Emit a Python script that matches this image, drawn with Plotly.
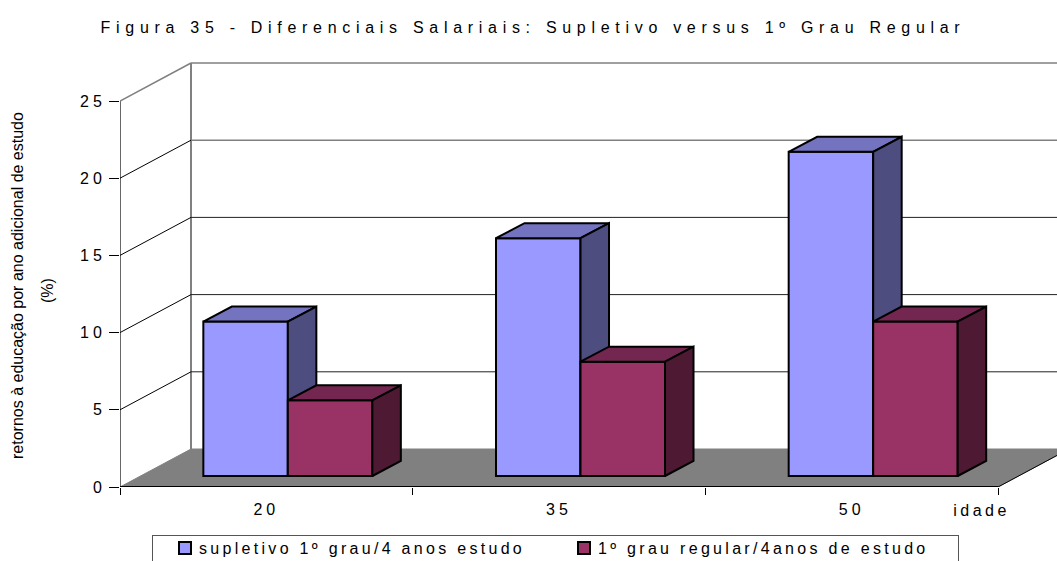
import plotly.graph_objects as go

# Data
ages = ["20", "35", "50"]
supletivo = [10, 15.4, 21]
regular = [4.9, 7.4, 10]
name_sup = "supletivo 1º grau/4 anos estudo"
name_reg = "1º grau regular/4anos de estudo"
y_ticks = [0, 5, 10, 15, 20, 25]
title = "Figura 35 - Diferenciais Salariais: Supletivo versus 1º Grau Regular"
ytitle1 = "retornos à educação por ano adicional de estudo"
ytitle2 = "(%)"

# Geometry of the pseudo-3D projection (axis units)
PX_X, PX_Y = 292.67, 15.44
L, B, W, H = 120, 74, 937, 437
xmax, ymax = W / PX_X, H / PX_Y
WALL_DX, WALL_DY = 71 / PX_X, 38 / PX_Y
BAR_DX, BAR_DY = 21.5 / PX_X, 11 / PX_Y
SIDE_DX, SIDE_DY = 28.5 / PX_X, 15 / PX_Y
BAR_W = 84.5 / PX_X
n = len(ages)
FONT = "Liberation Sans, Arial, sans-serif"

fig = go.Figure()


def poly(xs, ys, fill, line="#000000", width=2, axes=("x", "y")):
    fig.add_trace(go.Scatter(x=xs, y=ys, mode="lines", fill="toself", fillcolor=fill,
                             line=dict(color=line, width=width), showlegend=False,
                             hoverinfo="skip", xaxis=axes[0], yaxis=axes[1]))


def seg(xs, ys, color, width):
    fig.add_trace(go.Scatter(x=xs, y=ys, mode="lines", line=dict(color=color, width=width),
                             showlegend=False, hoverinfo="skip"))


# floor
poly([0, n, n + WALL_DX, WALL_DX, 0], [0, 0, WALL_DY, WALL_DY, 0], "#808080", "#808080", 1)
seg([n, n + WALL_DX], [0, WALL_DY], "#000000", 1)
# walls and gridlines
seg([WALL_DX, WALL_DX], [WALL_DY, 25 + WALL_DY], "#808080", 2)
seg([0, 0], [0, 25], "#000000", 1.2)
for v in y_ticks[1:]:
    grey = v >= 20
    seg([0, WALL_DX], [v, v + WALL_DY], "#808080" if v == 25 else "#000000", 1.5 if v == 25 else 1)
    seg([WALL_DX, xmax], [v + WALL_DY] * 2, "#808080" if grey else "#222222", 1.5 if grey else 1)
seg([0, n], [0, 0], "#000000", 2)


def series(vals, centers_off, front, top, side, name, axes):
    xs = [i + 0.5 + BAR_DX for i in range(n)]
    fig.add_trace(go.Bar(x=xs, y=vals, base=[BAR_DY] * n, width=BAR_W, offset=centers_off,
                         marker=dict(color=front, line=dict(color="#000000", width=2)),
                         name=name, xaxis=axes[0], yaxis=axes[1]))
    for xc, v in zip(xs, vals):
        x0, x1 = xc + centers_off, xc + centers_off + BAR_W
        y0, y1 = BAR_DY, BAR_DY + v
        poly([x0, x1, x1 + SIDE_DX, x0 + SIDE_DX, x0],
             [y1, y1, y1 + SIDE_DY, y1 + SIDE_DY, y1], top, axes=axes)
        poly([x1, x1 + SIDE_DX, x1 + SIDE_DX, x1, x1],
             [y0, y0 + SIDE_DY, y1 + SIDE_DY, y1, y0], side, axes=axes)


series(supletivo, -BAR_W, "#9999FF", "#7373BF", "#4D4D80", name_sup, ("x2", "y2"))
series(regular, 0, "#993366", "#732650", "#4D1933", name_reg, ("x3", "y3"))

hidden_x = dict(range=[0, xmax], visible=False, overlaying="x", fixedrange=True)
hidden_y = dict(range=[0, ymax], visible=False, overlaying="y", fixedrange=True)

fig.update_layout(
    width=1057, height=561, autosize=False,
    margin=dict(l=L, r=0, t=561 - B - H, b=B),
    paper_bgcolor="white", plot_bgcolor="white",
    font=dict(family=FONT, size=16, color="#000000"),
    barmode="overlay",
    title=dict(text=title, x=533 / 1057, xanchor="center", y=1 - 27 / 561, yanchor="middle",
               font=dict(size=16)),
    xaxis=dict(range=[0, xmax], tickvals=[i + 0.5 for i in range(n)], ticktext=ages,
               ticks="outside", ticklen=8, tickcolor="rgba(0,0,0,0)", showgrid=False,
               zeroline=False, showline=False,
               minor=dict(tickvals=list(range(n + 1)), ticks="outside", ticklen=7,
                          tickcolor="#000000", tickwidth=1, showgrid=False)),
    yaxis=dict(range=[0, ymax], tickvals=y_ticks, ticks="outside", ticklen=10, tickcolor="#000000",
               showgrid=False, zeroline=False, showline=False),
    xaxis2=hidden_x, yaxis2=hidden_y, xaxis3=hidden_x, yaxis3=hidden_y,
    legend=dict(orientation="h", xref="container", yref="container", x=152 / 1057, y=26 / 561,
                xanchor="left", yanchor="top", bgcolor="white", bordercolor="#555555",
                borderwidth=1, entrywidth=354, entrywidthmode="pixels", itemwidth=30,
                font=dict(size=16), traceorder="normal"),
    annotations=[
        dict(text=ytitle1, xref="paper", yref="paper", x=-103 / W, y=(487 - 286) / H,
             textangle=-90, showarrow=False, xanchor="center", yanchor="middle", font=dict(size=16)),
        dict(text=ytitle2, xref="paper", yref="paper", x=-73 / W, y=(487 - 291) / H,
             textangle=-90, showarrow=False, xanchor="center", yanchor="middle", font=dict(size=16)),
        dict(text="idade", xref="paper", yref="paper", x=(981 - L) / W, y=(487 - 510) / H,
             showarrow=False, xanchor="center", yanchor="middle", font=dict(size=16)),
    ],
)

spacing_js = """
document.body.style.margin = '0';
var gd = document.querySelector('.js-plotly-plot');
function spaced(sel, px) {
  gd.querySelectorAll(sel).forEach(function (el) { el.style.letterSpacing = px; });
}
spaced('.gtitle', '5.7px');
spaced('.xtick text, .ytick text', '4px');
spaced('.legendtext', '3.3px');
gd.querySelectorAll('.annotation-text').forEach(function (el) {
  if (el.textContent === 'idade') { el.style.letterSpacing = '3.5px'; }
});
gd.querySelectorAll('.legendtext').forEach(function (el) { el.setAttribute('x', '34'); });
gd.querySelectorAll('.legend .bg').forEach(function (el) { el.setAttribute('width', '806'); });
gd.querySelectorAll('.legend .traces').forEach(function (el) {
  var m = /translate\\(([-\\d.]+),\\s*([-\\d.]+)\\)/.exec(el.getAttribute('transform'));
  if (m) { el.setAttribute('transform', 'translate(' + (parseFloat(m[1]) + 12) + ',' + (parseFloat(m[2]) - 5) + ')'); }
});
"""
fig.write_html("out.html", post_script=spacing_js, config={"displayModeBar": False})
